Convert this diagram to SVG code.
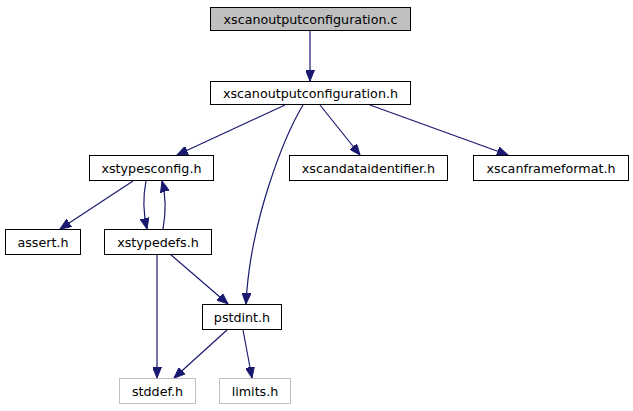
<svg xmlns="http://www.w3.org/2000/svg" width="633" height="411" viewBox="0 0 633 411">
<style>
.n rect{fill:#fff;stroke:#000;stroke-width:1}
.g rect{fill:#fff;stroke:#bfbfbf;stroke-width:1}
.top rect{fill:#bfbfbf;stroke:#000;stroke-width:1}
text{font-family:"DejaVu Sans",sans-serif;font-size:12.7px;text-anchor:middle;fill:#000}
.e path{fill:none;stroke:#191970;stroke-width:1.2;marker-end:url(#a)}
</style>
<defs>
<marker id="a" markerUnits="userSpaceOnUse" markerWidth="12" markerHeight="9" refX="11" refY="4.5" orient="auto">
<path d="M0,0 L11,4.5 L0,9 z" fill="#191970" stroke="#191970" stroke-width="1"/>
</marker>
</defs>
<g id="edges" class="e">
<path d="M310,31 L310,81"/>
<path d="M285,105 L177,155"/>
<path d="M303,105 C285,135 250,220 246,304"/>
<path d="M320,105 L360,155"/>
<path d="M370,105 L508,155"/>
<path d="M133,181 L60,229"/>
<path d="M146,181 C143,196 143,212 147,229"/>
<path d="M163,229 C166,212 166,196 162,181"/>
<path d="M170,254 L228,304"/>
<path d="M157,254 L157,378"/>
<path d="M227,330 L174,378"/>
<path d="M243,330 L252,378"/>
</g>
<g id="n0" class="top"><rect x="210.5" y="7.5" width="200" height="23"/><text x="310.5" y="23.5">xscanoutputconfiguration.c</text></g>
<g id="n1" class="n"><rect x="210.5" y="81.5" width="200" height="23"/><text x="310.5" y="97.5">xscanoutputconfiguration.h</text></g>
<g id="n2" class="n"><rect x="89.5" y="155.5" width="124" height="25"/><text x="151.5" y="172.5">xstypesconfig.h</text></g>
<g id="n3" class="n"><rect x="289.5" y="155.5" width="158" height="25"/><text x="368.5" y="172.5">xscandataidentifier.h</text></g>
<g id="n4" class="n"><rect x="473.5" y="155.5" width="155" height="25"/><text x="551" y="172.5">xscanframeformat.h</text></g>
<g id="n5" class="n"><rect x="5.5" y="229.5" width="75" height="25"/><text x="43" y="246.5">assert.h</text></g>
<g id="n6" class="n"><rect x="104.5" y="229.5" width="107" height="25"/><text x="158" y="246.5">xstypedefs.h</text></g>
<g id="n7" class="n"><rect x="202.5" y="304.5" width="79" height="25"/><text x="242" y="321.5">pstdint.h</text></g>
<g id="n8" class="g"><rect x="119.5" y="378.5" width="76" height="25"/><text x="157.5" y="395.5">stddef.h</text></g>
<g id="n9" class="g"><rect x="219.5" y="378.5" width="71" height="25"/><text x="255" y="395.5">limits.h</text></g>
</svg>
